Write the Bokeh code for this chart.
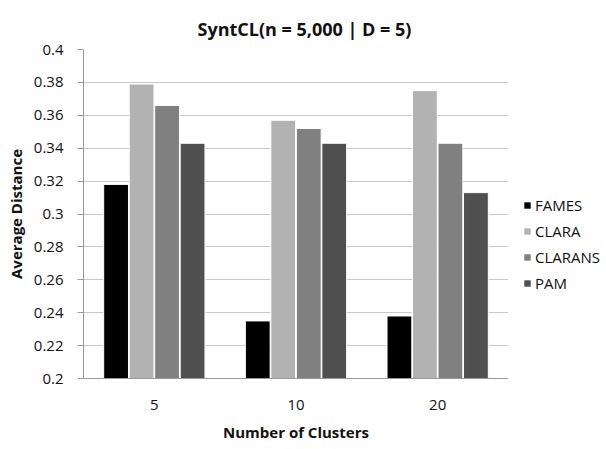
from bokeh.plotting import figure
from bokeh.layouts import row
from bokeh.models import ColumnDataSource, FactorRange, FixedTicker, Legend, LegendItem, Title
from bokeh.transform import dodge
from bokeh.embed import file_html
from bokeh.resources import INLINE

categories = ["5", "10", "20"]
series_names = ["FAMES", "CLARA", "CLARANS", "PAM"]
fames = [0.318, 0.235, 0.238]
clara = [0.379, 0.357, 0.375]
clarans = [0.366, 0.352, 0.343]
pam = [0.343, 0.343, 0.313]
y_ticks = [0.2, 0.22, 0.24, 0.26, 0.28, 0.3, 0.32, 0.34, 0.36, 0.38, 0.4]
y_tick_labels = ["0.2", "0.22", "0.24", "0.26", "0.28", "0.3", "0.32", "0.34", "0.36", "0.38", "0.4"]

colors = ["#000000", "#b2b2b2", "#808080", "#505050"]
offsets = [-0.27, -0.09, 0.09, 0.27]
FONT = "Open Sans"
TXT = "#111111"

src = ColumnDataSource(dict(cat=categories, FAMES=fames, CLARA=clara, CLARANS=clarans, PAM=pam))

p = figure(width=508, height=449, x_range=FactorRange(*categories), y_range=(0.2, 0.4),
           output_backend="svg", toolbar_location=None,
           min_border_left=83, min_border_right=0, min_border_top=49, min_border_bottom=71)
p.title = None
p.outline_line_color = None

for name, col, off in zip(series_names, colors, offsets):
    p.vbar(x=dodge("cat", off, range=p.x_range), top=name, bottom=0.2, width=0.175,
           source=src, fill_color=col, line_color="#ffffff", line_width=1)

title = Title(text="SyntCL(n = 5,000 | D = 5)", align="left", text_font=FONT,
              text_font_size="18px", text_font_style="bold", text_color=TXT,
              offset=114, standoff=14, vertical_align="top")
p.add_layout(title, "above")

p.yaxis.ticker = FixedTicker(ticks=y_ticks)
p.yaxis.major_label_overrides = {t: l for t, l in zip(y_ticks, y_tick_labels)}
p.yaxis.minor_tick_line_color = None
p.yaxis.major_tick_in = 0
p.yaxis.major_tick_out = 6
p.yaxis.major_tick_line_color = "#999999"
p.yaxis.axis_line_color = "#999999"
p.yaxis.major_label_standoff = 14
p.yaxis.major_label_text_font = FONT
p.yaxis.major_label_text_font_size = "15px"
p.yaxis.major_label_text_color = TXT
p.yaxis.axis_label = "Average Distance"
p.yaxis.axis_label_text_font = FONT
p.yaxis.axis_label_text_font_size = "15px"
p.yaxis.axis_label_text_font_style = "bold"
p.yaxis.axis_label_text_color = TXT
p.yaxis.axis_label_standoff = 5

p.xaxis.major_tick_in = 0
p.xaxis.major_tick_out = 0
p.xaxis.axis_line_color = "#999999"
p.xaxis.major_label_standoff = 21
p.xaxis.major_label_text_font = FONT
p.xaxis.major_label_text_font_size = "15px"
p.xaxis.major_label_text_color = TXT
p.xaxis.axis_label = "Number of Clusters"
p.xaxis.axis_label_text_font = FONT
p.xaxis.axis_label_text_font_size = "15px"
p.xaxis.axis_label_text_font_style = "bold"
p.xaxis.axis_label_text_color = TXT
p.xaxis.axis_label_standoff = 9

p.xgrid.grid_line_color = None
p.ygrid.grid_line_color = "#c8c8c8"
p.ygrid.grid_line_width = 1

# Legend panel: a second figure whose frame covers the strip right of the chart.
# Its bars have zero width and height; they only feed the legend swatches.
p2 = figure(width=98, height=449, x_range=FactorRange(*categories), y_range=(0.2, 0.4),
            output_backend="svg", toolbar_location=None, x_axis_type=None, y_axis_type=None,
            min_border=0)
p2.title = None
p2.outline_line_color = None
p2.xgrid.grid_line_color = None
p2.ygrid.grid_line_color = None
leg_renderers = []
for name, col, off in zip(series_names, colors, offsets):
    r = p2.vbar(x=dodge("cat", off, range=p2.x_range), top=name, bottom=name, width=0,
                source=src, fill_color=col, line_color=None)
    leg_renderers.append(r)

legend = Legend(items=[LegendItem(label=n, renderers=[r]) for n, r in zip(series_names, leg_renderers)],
                location=(15, 85), glyph_width=8, glyph_height=8, label_height=20,
                spacing=6, padding=0, margin=0, border_line_color=None,
                background_fill_alpha=0, label_text_font=FONT, label_text_font_size="15px",
                label_text_color=TXT, label_standoff=4)
p2.add_layout(legend, "center")

layout = row(p, p2)
open("out.html", "w").write(file_html(layout, INLINE))
